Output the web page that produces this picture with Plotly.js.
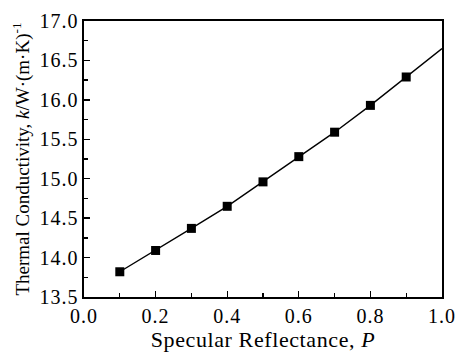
<!DOCTYPE html>
<html><head><meta charset="utf-8">
<script src="https://cdn.plot.ly/plotly-3.0.1.min.js"></script>
<style>
html,body{margin:0;padding:0;background:#fff}
.xtick text, .ytick text {letter-spacing: 1px;}
.xtitle {letter-spacing: 0.6px;}
</style>
</head><body>
<div id="chart" style="width:457px;height:353px"></div>
<script>
var reflectance = [0.1, 0.2, 0.3, 0.4, 0.5, 0.6, 0.7, 0.8, 0.9, 1.0];
var conductivity = [13.82, 14.09, 14.37, 14.65, 14.96, 15.28, 15.59, 15.93, 16.29, 16.65];

var lineTrace = {
  x: reflectance, y: conductivity, type: 'scatter', mode: 'lines',
  line: {color: '#000', width: 1.4}, cliponaxis: true, hoverinfo: 'skip'
};
var markerTrace = {
  x: reflectance.slice(0, 9), y: conductivity.slice(0, 9), type: 'scatter', mode: 'markers',
  marker: {symbol: 'square', size: 9, color: '#000'}, cliponaxis: true
};
var fam = '"Liberation Serif", "Times New Roman", serif';
var layout = {
  width: 457, height: 353,
  margin: {l: 84, r: 15, t: 21, b: 56},
  paper_bgcolor: '#fff', plot_bgcolor: '#fff',
  showlegend: false,
  font: {family: fam, color: '#000'},
  xaxis: {
    range: [0, 1.0], dtick: 0.2, tick0: 0, tickformat: '.1f',
    ticks: 'inside', ticklen: 6, tickwidth: 1.3, tickcolor: '#000',
    minor: {dtick: 0.1, ticks: 'inside', ticklen: 4, tickwidth: 1.3, tickcolor: '#000'},
    showline: true, linewidth: 1.6, linecolor: '#000', mirror: true,
    showgrid: false, zeroline: false,
    tickfont: {family: fam, size: 20, color: '#000'},
    title: {text: 'Specular Reflectance, <i>P</i>', font: {family: fam, size: 22, color: '#000'}, standoff: 4}
  },
  yaxis: {
    range: [13.5, 17.0], dtick: 0.5, tick0: 13.5, tickformat: '.1f',
    ticks: 'inside', ticklen: 6, tickwidth: 1.3, tickcolor: '#000',
    minor: {dtick: 0.25, ticks: 'inside', ticklen: 4, tickwidth: 1.3, tickcolor: '#000'},
    showline: true, linewidth: 1.6, linecolor: '#000', mirror: true,
    showgrid: false, zeroline: false,
    tickfont: {family: fam, size: 20, color: '#000'},
    title: {text: 'Thermal Conductivity, <i>k</i>/W·(m·K)<sup>-1</sup>', font: {family: fam, size: 19, color: '#000'}, standoff: 5}
  }
};
Plotly.newPlot('chart', [lineTrace, markerTrace], layout, {displayModeBar: false, staticPlot: true});
</script>
</body></html>
